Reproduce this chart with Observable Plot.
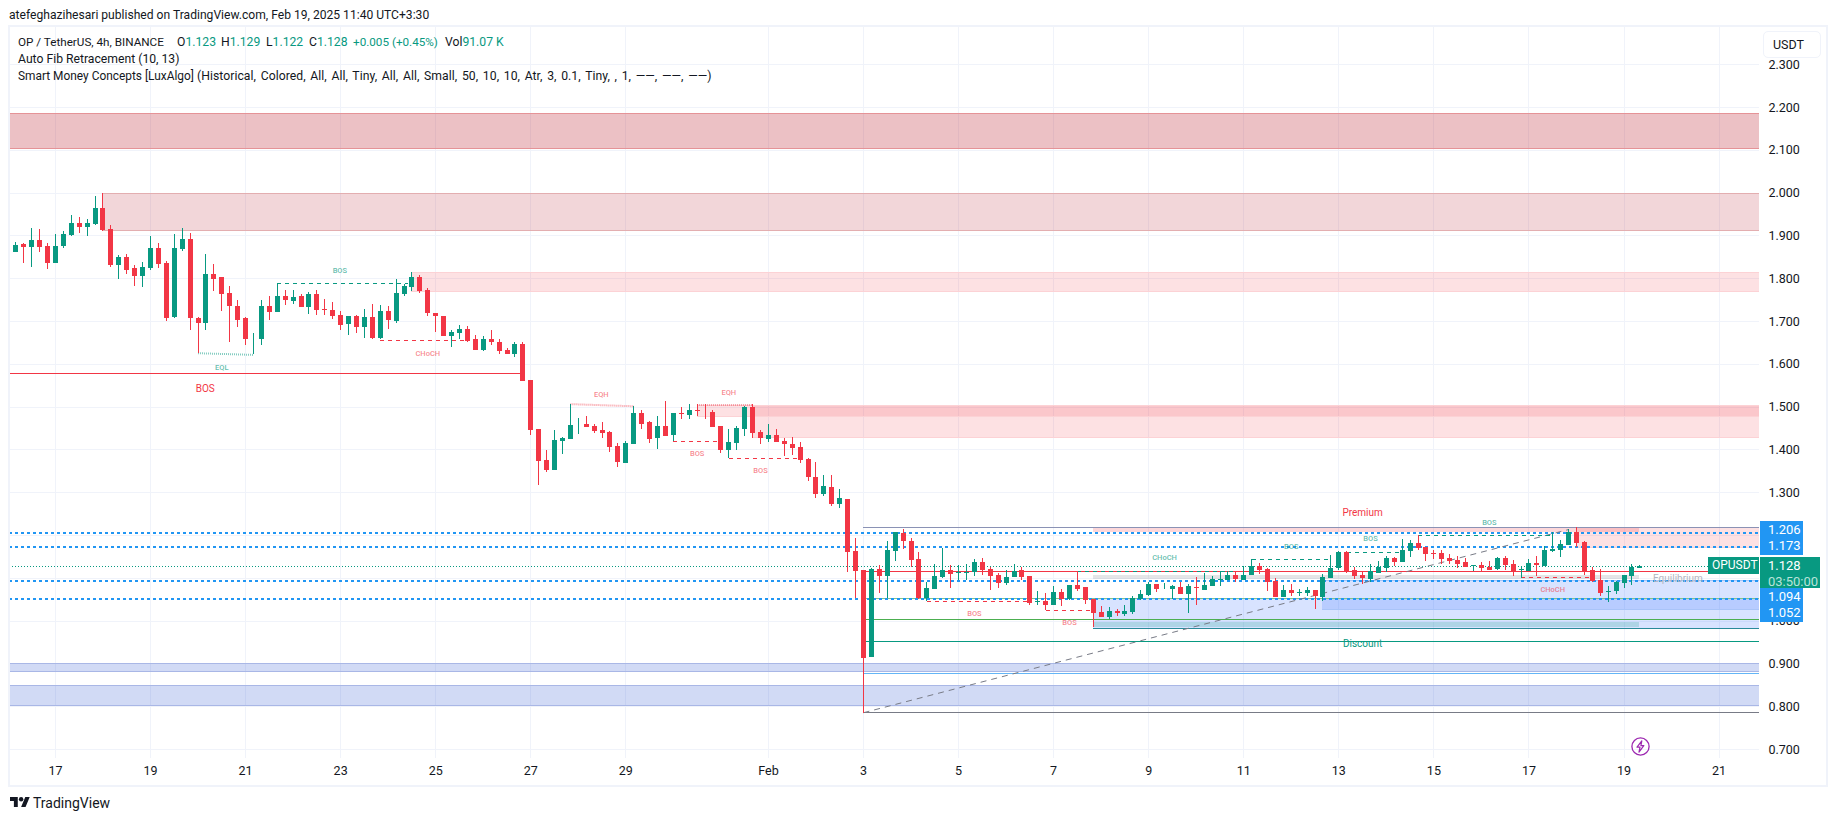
<!DOCTYPE html>
<html><head><meta charset="utf-8">
<script src="https://cdn.jsdelivr.net/npm/d3@7"></script>
<script src="https://cdn.jsdelivr.net/npm/@observablehq/plot@0.6"></script>
<style>
html,body{margin:0;padding:0;background:#fff}
#wrap{position:relative;width:1835px;height:821px;overflow:hidden;font-family:Roboto,sans-serif;color:#131722}
#chart{position:absolute;left:0;top:0}
.t{position:absolute;white-space:pre;line-height:16px;font-size:12.2px}
.g{color:#089981}
.frame{position:absolute;left:8px;top:25px;width:1816px;height:758px;border:2px solid #f0f3fa;pointer-events:none}
.usdt{position:absolute;left:1763px;top:31px;width:56px;height:25px;border:1.5px solid #f0f3fa;border-radius:5px;background:#fff;font-size:12.5px;line-height:25px;text-indent:9px}
.tag{position:absolute;color:#fff;font-size:13px;line-height:16px;padding-left:8px;box-sizing:border-box}
</style></head><body>
<div id="wrap">
<div id="chart"></div>
<div class="frame"></div>
<div class="t" style="left:9px;top:7px;font-size:12.1px">atefeghazihesari published on TradingView.com, Feb 19, 2025 11:40 UTC+3:30</div>
<div class="t" style="left:18px;top:34px;font-size:11.7px">OP / TetherUS, 4h, BINANCE</div>
<div class="t" style="left:177px;top:34px">O<span class="g">1.123</span></div>
<div class="t" style="left:221px;top:34px">H<span class="g">1.129</span></div>
<div class="t" style="left:266px;top:34px">L<span class="g">1.122</span></div>
<div class="t" style="left:309px;top:34px">C<span class="g">1.128</span></div>
<div class="t g" style="left:353px;top:34px;font-size:11.7px">+0.005 (+0.45%)</div>
<div class="t" style="left:445px;top:34px">Vol<span class="g">91.07 K</span></div>
<div class="t" style="left:18px;top:51px">Auto Fib Retracement (10, 13)</div>
<div class="t" style="left:18px;top:68px;font-size:11.9px">Smart Money Concepts [LuxAlgo]</div>
<div class="t" style="left:197px;top:68px;word-spacing:1.6px;letter-spacing:.05px">(Historical, Colored, All, All, Tiny, All, All, Small, 50, 10, 10, Atr, 3, 0.1, Tiny, , 1, ——, ——, ——)</div>
<div class="usdt">USDT</div>
<div class="tag" style="left:1760px;top:521px;width:43px;height:34px;background:#2196f3;padding-top:1px">1.206<br>1.173</div>
<div class="tag" style="left:1760px;top:588px;width:43px;height:34px;background:#2196f3;padding-top:1px">1.094<br>1.052</div>
<div class="tag" style="left:1760px;top:557px;width:60px;height:31px;background:#089981;padding-top:1px">1.128<br><span style="color:#b8e4da">03:50:00</span></div>
<div class="tag" style="left:1708px;top:557px;width:51px;height:17px;background:#089981;padding-left:4px;font-size:12px">OPUSDT</div>
<svg style="position:absolute;left:1631px;top:737px" width="19" height="19" viewBox="0 0 19 19"><circle cx="9.5" cy="9.5" r="8.6" fill="none" stroke="#9c27b0" stroke-width="1.3"/><path d="M10.8 3.8 6 10.2h3l-1 5 4.8-6.6H9.9z" fill="none" stroke="#9c27b0" stroke-width="1.2" stroke-linejoin="round"/></svg>
<svg style="position:absolute;left:10px;top:796px" width="20" height="12" viewBox="0 3 36 20"><path d="M14 22H7V11H0V4h14v18zM28 22h-8l7.5-18h8L28 22z" fill="#131722"/><circle cx="20" cy="8" r="4" fill="#131722"/></svg>
<div class="t" style="left:33px;top:795px;font-size:14px">TradingView</div>
</div>
<script>
// ---- candle data (4h bars) ----
const opens=[1.862,1.881,1.874,1.890,1.876,1.836,1.876,1.902,1.930,1.920,
1.927,1.964,1.916,1.832,1.850,1.825,1.806,1.825,1.871,1.836,
1.710,1.869,1.892,1.708,1.696,1.811,1.804,1.766,1.736,1.706,
1.657,1.657,1.736,1.722,1.759,1.747,1.759,1.733,1.764,1.729,
1.726,1.715,1.694,1.712,1.687,1.710,1.661,1.724,1.701,1.764,
1.780,1.803,1.773,1.719,1.712,1.666,1.673,1.682,1.657,1.633,
1.657,1.652,1.633,1.622,1.647,1.563,1.448,1.376,1.352,1.420,
1.425,1.459,1.460,1.455,1.446,1.441,1.409,1.369,1.413,1.486,
1.465,1.427,1.455,1.434,1.484,1.481,1.491,1.488,1.488,1.455,
1.399,1.416,1.448,1.498,1.441,1.425,1.434,1.420,1.413,1.406,
1.378,1.336,1.296,1.312,1.273,1.284,1.163,1.118,0.914,1.120,
1.104,1.163,1.205,1.186,1.144,1.052,1.073,1.102,1.118,1.112,
1.112,1.113,1.137,1.120,1.106,1.088,1.102,1.118,1.104,1.043,
1.045,1.036,1.066,1.050,1.083,1.078,1.050,1.020,1.008,1.022,
1.015,1.020,1.050,1.059,1.085,1.076,1.073,1.078,1.062,1.078,
1.071,1.080,1.095,1.095,1.106,1.095,1.106,1.127,1.120,1.092,
1.055,1.071,1.065,1.064,1.071,1.055,1.099,1.123,1.160,1.118,
1.106,1.097,1.111,1.123,1.146,1.137,1.163,1.181,1.172,1.158,
1.158,1.146,1.141,1.137,1.128,1.130,1.125,1.120,1.146,1.132,
1.118,1.116,1.134,1.127,1.163,1.165,1.177,1.207,1.184,1.118,
1.095,1.066,1.069,1.088,1.104,1.123];
const highs=[1.885,1.883,1.918,1.916,1.883,1.904,1.911,1.948,1.944,1.939,
1.992,2.000,1.925,1.855,1.857,1.832,1.839,1.899,1.883,1.841,
1.904,1.918,1.906,1.710,1.857,1.834,1.804,1.783,1.748,1.710,
1.673,1.748,1.759,1.790,1.773,1.773,1.764,1.768,1.773,1.752,
1.745,1.724,1.712,1.715,1.729,1.740,1.738,1.736,1.798,1.787,
1.815,1.808,1.778,1.719,1.712,1.680,1.691,1.689,1.668,1.664,
1.678,1.659,1.636,1.650,1.650,1.563,1.448,1.399,1.446,1.430,
1.507,1.474,1.479,1.460,1.463,1.444,1.416,1.420,1.502,1.493,
1.467,1.477,1.514,1.486,1.498,1.505,1.505,1.505,1.491,1.455,
1.448,1.455,1.502,1.505,1.446,1.460,1.448,1.427,1.430,1.418,
1.380,1.371,1.341,1.341,1.308,1.284,1.193,1.118,1.123,1.130,
1.186,1.207,1.214,1.193,1.160,1.090,1.132,1.170,1.130,1.130,
1.132,1.144,1.146,1.125,1.111,1.118,1.132,1.125,1.104,1.069,
1.064,1.080,1.073,1.083,1.116,1.078,1.050,1.034,1.031,1.027,
1.036,1.057,1.071,1.090,1.085,1.087,1.083,1.090,1.085,1.102,
1.111,1.104,1.116,1.116,1.116,1.127,1.144,1.134,1.123,1.099,
1.083,1.085,1.073,1.078,1.071,1.109,1.153,1.163,1.163,1.125,
1.116,1.132,1.139,1.151,1.148,1.191,1.188,1.200,1.172,1.165,
1.165,1.155,1.151,1.146,1.131,1.137,1.139,1.148,1.151,1.141,
1.125,1.144,1.151,1.174,1.207,1.188,1.214,1.219,1.186,1.125,
1.120,1.080,1.092,1.106,1.132,1.129];
const lows=[1.862,1.836,1.827,1.862,1.822,1.836,1.871,1.899,1.906,1.899,
1.925,1.911,1.827,1.799,1.811,1.783,1.780,1.820,1.825,1.699,
1.708,1.864,1.678,1.626,1.680,1.769,1.724,1.652,1.685,1.645,
1.622,1.645,1.703,1.720,1.738,1.740,1.733,1.717,1.715,1.715,
1.705,1.680,1.668,1.673,1.661,1.657,1.657,1.682,1.696,1.759,
1.771,1.766,1.712,1.675,1.666,1.640,1.659,1.652,1.633,1.629,
1.643,1.622,1.622,1.615,1.561,1.434,1.317,1.348,1.352,1.390,
1.425,1.437,1.453,1.439,1.427,1.395,1.359,1.369,1.413,1.448,
1.416,1.402,1.432,1.420,1.472,1.470,1.477,1.470,1.453,1.392,
1.380,1.399,1.432,1.427,1.413,1.418,1.418,1.385,1.387,1.369,
1.327,1.287,1.291,1.268,1.263,1.113,1.052,0.784,0.914,1.064,
1.052,1.139,1.167,1.125,1.050,1.046,1.073,1.099,1.076,1.095,
1.095,1.104,1.106,1.071,1.076,1.083,1.102,1.095,1.036,1.036,
1.024,1.036,1.034,1.048,1.069,1.038,0.984,1.008,1.003,1.010,
1.010,1.015,1.048,1.057,1.066,1.073,1.050,1.062,1.017,1.036,
1.071,1.080,1.080,1.095,1.090,1.095,1.106,1.109,1.069,1.055,
1.055,1.057,1.057,1.057,1.027,1.045,1.099,1.118,1.111,1.097,
1.085,1.090,1.111,1.113,1.127,1.137,1.148,1.165,1.139,1.144,
1.132,1.132,1.123,1.125,1.116,1.116,1.118,1.118,1.118,1.104,
1.100,1.116,1.104,1.127,1.160,1.148,1.177,1.172,1.106,1.090,
1.057,1.043,1.062,1.076,1.083,1.122];
const closes=[1.878,1.874,1.890,1.874,1.836,1.876,1.904,1.930,1.920,1.930,
1.964,1.913,1.832,1.850,1.820,1.806,1.827,1.871,1.834,1.708,
1.871,1.892,1.706,1.696,1.811,1.799,1.764,1.734,1.703,1.657,
1.659,1.736,1.722,1.759,1.748,1.757,1.733,1.764,1.726,1.726,
1.712,1.691,1.712,1.687,1.710,1.661,1.724,1.703,1.766,1.782,
1.803,1.771,1.719,1.712,1.666,1.675,1.682,1.654,1.633,1.659,
1.650,1.631,1.622,1.647,1.561,1.446,1.373,1.352,1.423,1.427,
1.458,1.460,1.453,1.444,1.439,1.406,1.371,1.416,1.486,1.460,
1.425,1.455,1.432,1.484,1.482,1.491,1.489,1.487,1.453,1.399,
1.418,1.451,1.498,1.439,1.427,1.434,1.418,1.413,1.404,1.376,
1.336,1.296,1.315,1.273,1.287,1.160,1.116,0.912,1.120,1.104,
1.165,1.207,1.186,1.141,1.052,1.076,1.104,1.118,1.109,1.113,
1.113,1.137,1.118,1.104,1.088,1.102,1.116,1.102,1.041,1.045,
1.036,1.066,1.050,1.083,1.073,1.048,1.017,1.008,1.022,1.017,
1.022,1.052,1.062,1.085,1.073,1.077,1.080,1.062,1.080,1.076,
1.083,1.097,1.097,1.106,1.097,1.106,1.127,1.118,1.090,1.055,
1.071,1.064,1.066,1.071,1.057,1.102,1.123,1.160,1.113,1.104,
1.099,1.116,1.125,1.146,1.137,1.165,1.181,1.170,1.155,1.156,
1.144,1.139,1.132,1.125,1.130,1.123,1.118,1.146,1.130,1.116,
1.120,1.134,1.130,1.165,1.167,1.179,1.207,1.181,1.116,1.092,
1.064,1.069,1.090,1.106,1.125,1.128];

// ---- axes ----
const gridPrices=[2.3,2.2,2.1,2.0,1.9,1.8,1.7,1.6,1.5,1.4,1.3,1.2,1.1,1.0,0.9,0.8,0.7];
const yTicks=[2.3,2.2,2.1,2.0,1.9,1.8,1.7,1.6,1.5,1.4,1.3,1.0,0.9,0.8,0.7];
const tickDates=["2025-01-17","2025-01-19","2025-01-21","2025-01-23","2025-01-25","2025-01-27","2025-01-29","2025-02-01","2025-02-03","2025-02-05","2025-02-07","2025-02-09","2025-02-11","2025-02-13","2025-02-15","2025-02-17","2025-02-19","2025-02-21"];
const tickLabels=["17","19","21","23","25","27","29","Feb","3","5","7","9","11","13","15","17","19","21"];

// ---- supply / demand zones: [first bar, last bar, top price, bottom price] ----
const leftEdge=0.2, rightEdge=221.1;
const maroonZones=[[leftEdge,rightEdge,2.185,2.104]];
const roseZones=[[12,rightEdge,2.000,1.912]];
const pinkZones=[[51,rightEdge,1.814,1.771],[87,rightEdge,1.504,1.477],[94,rightEdge,1.504,1.428],[198,rightEdge,1.219,1.173]];
const periwinkleZones=[[leftEdge,rightEdge,0.901,0.882],[leftEdge,rightEdge,0.849,0.802]];
const demandZones=[[137,rightEdge,1.052,0.983],[166,rightEdge,1.095,1.027]];
const premiumZones=[[137,206,1.218,1.208]];
const equilibriumZones=[[137,206,1.107,1.097]];
const discountZones=[[137,206,0.997,0.984]];

// ---- horizontal levels ----
const blueLevels=[1.206,1.173,1.094,1.052];
const lastPrice=1.128;
const fibLevels=[
 {p:1.218,k:"top"},{p:1.115,k:"red"},{p:1.052,k:"lime"},{p:1.003,k:"green"},
 {p:0.952,k:"teal"},{p:0.878,k:"sky"},{p:0.786,k:"gray"}];
const fibStart=108, fibEnd=197, fibLow=0.786, fibHigh=1.214;
const discountFloor=[[137,rightEdge,0.983]];

// ---- structure lines: [from bar, to bar, price at start, price at end] ----
const tealDashed=[[34,50.5,1.788,1.788],[135,155,1.117,1.117],[157,167,1.143,1.143],[169,176,1.161,1.161],[178,195,1.200,1.200]];
const redDashed=[[47,58,1.655,1.655],[84,90,1.419,1.419],[91,100,1.379,1.379],[116,129,1.045,1.045],[131,137,1.025,1.025],[191,200,1.101,1.101]];
const redSolid=[[leftEdge,65,1.578,1.578]];
const eqlLines=[[24,31,1.626,1.622]];
const eqhLines=[[71,79,1.507,1.502],[87,94,1.505,1.505]];

// ---- labels: [text, bar, price] ----
const tealLabels=[["EQL",27,1.593],["BOS",41.9,1.819],["CHoCH",146,1.148],["BOS",162,1.174],["BOS",172,1.192],["BOS",187,1.230]];
const redLabels=[["CHoCH",53,1.626],["EQH",74.9,1.529],["EQH",91,1.533],["BOS",87,1.391],["BOS",95,1.351],["BOS",122,1.017],["BOS",134,0.996],["CHoCH",195,1.073]];
const bigLabels=[["BOS",24.9,1.543,"red"],["Premium",171,1.254,"red"],["Discount",171,0.948,"teal"],["Equilibrium",210.8,1.099,"gray"]];

// ---- helpers ----
const GREEN="#089981", RED="#f23645";
const firstBar=Date.UTC(2025,0,16,4);
const barTime=i=>new Date(firstBar+(i-1)*4*3600e3);
const bars=opens.map((o,i)=>({t:barTime(i+1),o,h:highs[i],l:lows[i],c:closes[i],col:closes[i]>=o?GREEN:RED}));
const tickD=tickDates.map(s=>new Date(s+"T00:00:00Z"));
const labelOf=new Map(tickD.map((d,i)=>[+d,tickLabels[i]]));
const crisp={shapeRendering:"crispEdges"};
// A zone is a translucent band with a line along its top and bottom edge only.
const zoneMark=(z,opt,edge)=>[
  Plot.rect(z,{x1:d=>barTime(d[0]),x2:d=>barTime(d[1]),y1:d=>d[2],y2:d=>d[3],...crisp,...opt}),
  edge?Plot.ruleY(z,{y:d=>d[2],x1:d=>barTime(d[0]),x2:d=>barTime(d[1]),stroke:edge,...crisp}):null,
  edge?Plot.ruleY(z,{y:d=>d[3],x1:d=>barTime(d[0]),x2:d=>barTime(d[1]),stroke:edge,...crisp}):null
];
const segMark=(z,opt)=>Plot.link(z,{x1:d=>barTime(d[0]),x2:d=>barTime(d[1]),y1:d=>d[2],y2:d=>d[3],...opt});
const labelMark=(z,opt)=>Plot.text(z,{text:d=>d[0],x:d=>barTime(d[1]),y:d=>d[2],...opt});
const fibColor={top:"#8a92b5",red:RED,lime:"#81c784",green:"#4caf50",teal:GREEN,sky:"#64b5f6",gray:"#787b86"};

const chart=Plot.plot({
  width:1835,height:821,
  marginLeft:9,marginRight:76,marginTop:27,marginBottom:63,
  style:{fontFamily:"Roboto,sans-serif",background:"transparent",color:"#131722",overflow:"visible"},
  x:{type:"utc",domain:[barTime(leftEdge),barTime(rightEdge)]},
  y:{domain:[0.679,2.387]},
  marks:[
    Plot.gridX(tickD,{stroke:"#f0f3fa",strokeOpacity:1,strokeWidth:1,...crisp}),
    Plot.gridY(gridPrices,{stroke:"#f0f3fa",strokeOpacity:1,strokeWidth:1,...crisp}),
    zoneMark(maroonZones,{fill:"#bf3340",fillOpacity:0.3},"#e59397"),
    zoneMark(roseZones,{fill:"#bf3340",fillOpacity:0.2},"#e3aeb0"),
    zoneMark(pinkZones,{fill:RED,fillOpacity:0.15},"#fcd2d5"),
    zoneMark(periwinkleZones,{fill:"#1848cc",fillOpacity:0.2},"#a9b7e6"),
    zoneMark(demandZones,{fill:"#2962ff",fillOpacity:0.18},"#a9c4f8"),
    zoneMark(premiumZones,{fill:RED,fillOpacity:0.2}),
    zoneMark(equilibriumZones,{fill:"#787b86",fillOpacity:0.2}),
    zoneMark(discountZones,{fill:GREEN,fillOpacity:0.2}),
    Plot.ruleY(fibLevels,{y:"p",x1:barTime(fibStart),x2:barTime(rightEdge),stroke:d=>fibColor[d.k],...crisp}),
    Plot.ruleY(discountFloor,{y:d=>d[2],x1:d=>barTime(d[0]),x2:d=>barTime(d[1]),stroke:"#2a8a9a",strokeWidth:1.5,...crisp}),
    Plot.ruleY(blueLevels,{x1:barTime(leftEdge),x2:barTime(rightEdge),stroke:"#2196f3",strokeWidth:2,strokeDasharray:"2.5,3.5",...crisp}),
    Plot.ruleY([lastPrice],{x1:barTime(leftEdge),x2:barTime(rightEdge),stroke:GREEN,strokeWidth:1,strokeDasharray:"1,2",...crisp}),
    Plot.link([[fibStart,fibEnd,fibLow,fibHigh]],{x1:d=>barTime(d[0]),x2:d=>barTime(d[1]),y1:d=>d[2],y2:d=>d[3],stroke:"#787b86",strokeWidth:1,strokeDasharray:"6,5"}),
    segMark(redSolid,{stroke:RED,strokeWidth:1,...crisp}),
    segMark(tealDashed,{stroke:GREEN,strokeWidth:1,strokeDasharray:"4,4",...crisp}),
    segMark(redDashed,{stroke:RED,strokeWidth:1,strokeDasharray:"4,4",...crisp}),
    segMark(eqlLines,{stroke:GREEN,strokeOpacity:0.5,strokeWidth:2,strokeDasharray:"1,1"}),
    segMark(eqhLines,{stroke:RED,strokeOpacity:0.5,strokeWidth:2,strokeDasharray:"1,1"}),
    Plot.ruleX(bars,{x:"t",y1:"l",y2:"h",stroke:"col",strokeWidth:1,...crisp}),
    Plot.ruleX(bars,{x:"t",y1:"o",y2:"c",stroke:"col",strokeWidth:5,...crisp}),
    labelMark(tealLabels,{fill:GREEN,fillOpacity:0.65,fontSize:7.5,fontWeight:500}),
    labelMark(redLabels,{fill:RED,fillOpacity:0.6,fontSize:7.5,fontWeight:500}),
    labelMark(bigLabels,{fill:d=>({red:RED,teal:GREEN,gray:"#b2b5be"})[d[3]],fontSize:10}),
    Plot.axisY(yTicks,{anchor:"right",tickSize:0,tickPadding:9,tickFormat:d3.format(".3f"),label:null,fontSize:12.5,stroke:"none",fill:"#131722"}),
    Plot.axisX(tickD,{anchor:"bottom",tickSize:0,tickPadding:8,tickFormat:d=>labelOf.get(+d),label:null,fontSize:12.5,fill:"#131722"})
  ]
});
document.getElementById("chart").appendChild(chart);
</script>
</body></html>
